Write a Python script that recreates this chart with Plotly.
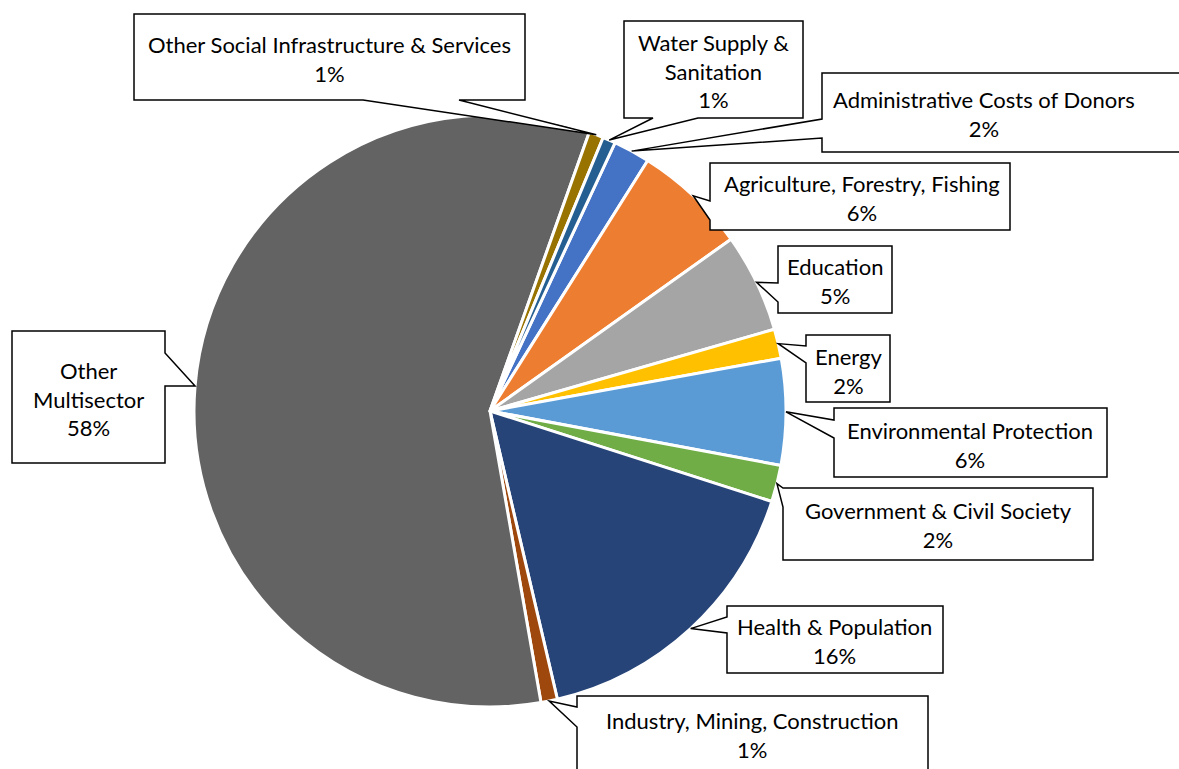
import math
import plotly.graph_objects as go

# ---------------- data ----------------
labels = [
    "Administrative Costs of Donors",
    "Agriculture, Forestry, Fishing",
    "Education",
    "Energy",
    "Environmental Protection",
    "Government & Civil Society",
    "Health & Population",
    "Industry, Mining, Construction",
    "Other Multisector",
    "Other Social Infrastructure & Services",
    "Water Supply & Sanitation",
]
values = [2.0, 6.2, 5.4, 1.6, 5.8, 2.0, 16.4, 0.9, 58.2, 0.8, 0.7]
colors = [
    "#4472C4", "#ED7D31", "#A5A5A5", "#FFC000", "#5B9BD5", "#70AD47",
    "#264478", "#9E480E", "#636363", "#997300", "#255E91",
]
# label text as displayed in the callouts (line breaks)
label_lines = [
    ["Administrative Costs of Donors"],
    ["Agriculture, Forestry, Fishing"],
    ["Education"],
    ["Energy"],
    ["Environmental Protection"],
    ["Government & Civil Society"],
    ["Health & Population"],
    ["Industry, Mining, Construction"],
    ["Other", "Multisector"],
    ["Other Social Infrastructure & Services"],
    ["Water Supply &", "Sanitation"],
]

# ---------------- layout constants ----------------
W, H = 1179, 769
CX, CY, R = 490, 411, 296          # pie centre / radius in pixels
ROTATION = 25                      # first slice start angle (deg, clockwise from 12 o'clock)

# callout boxes: (x0, y0, x1, y1), wedge side, wedge base (a, b), text centre (x, y)
callouts = [
    ((822, 73, 1190, 152), "left", (119, 138), (984, 114)),
    ((710, 163, 1010, 230), "left", (201, 220), (862, 198)),
    ((778, 246, 892, 313), "left", (283, 302), (835, 281)),
    ((806, 335, 890, 402), "left", (346, 363), (848, 371)),
    ((834, 408, 1107, 477), "left", (420, 438), (970, 445)),
    ((783, 488, 1093, 560), "left", (488, 507), (938, 525)),
    ((727, 606, 943, 673), "left", (617, 633), (835, 641)),
    ((577, 696, 928, 800), "left", (707, 727), (752, 735)),
    ((12, 331, 165, 463), "right", (353, 386), (88, 399)),
    ((134, 14, 525, 100), "bottom", (363, 459), (329, 59)),
    ((624, 21, 803, 118), "bottom", (653, 698), (713, 71)),
]

FONT = "Lato, Carlito, 'Liberation Sans', sans-serif"
FONT_SIZE = 22


def X(px):
    return px / W


def Y(py):
    return 1 - py / H


def callout_path(box, side, ab, tip):
    x0, y0, x1, y1 = box
    a, b = ab
    pts = [(x0, y0)]
    if side == "top":
        pts += [(a, y0), tip, (b, y0)]
    pts.append((x1, y0))
    if side == "right":
        pts += [(x1, a), tip, (x1, b)]
    pts.append((x1, y1))
    if side == "bottom":
        pts += [(b, y1), tip, (a, y1)]
    pts.append((x0, y1))
    if side == "left":
        pts += [(x0, b), tip, (x0, a)]
    return "M " + " L ".join(f"{X(x):.5f},{Y(y):.5f}" for x, y in pts) + " Z"


fig = go.Figure(
    go.Pie(
        labels=labels,
        values=values,
        sort=False,
        direction="clockwise",
        rotation=ROTATION,
        marker=dict(colors=colors, line=dict(color="white", width=3)),
        textinfo="none",
        hoverinfo="label+percent",
        domain=dict(x=[X(CX - R), X(CX + R)], y=[Y(CY + R), Y(CY - R)]),
        showlegend=False,
    )
)

total = sum(values)
cum = 0.0
shapes = []
annotations = []
for i, v in enumerate(values):
    mid = ROTATION + (cum + v / 2) / total * 360.0
    cum += v
    ang = math.radians(mid)
    tip = (CX + R * math.sin(ang), CY - R * math.cos(ang))
    box, side, ab, tc = callouts[i]
    shapes.append(
        dict(
            type="path",
            xref="paper",
            yref="paper",
            path=callout_path(box, side, ab, tip),
            fillcolor="white",
            line=dict(color="black", width=1.5),
            layer="above",
        )
    )
    pct = f"{round(v / total * 100):d}%"
    text = "<br>".join(label_lines[i] + [pct])
    annotations.append(
        dict(
            x=X(tc[0]),
            y=Y(tc[1]),
            xref="paper",
            yref="paper",
            text=text,
            showarrow=False,
            xanchor="center",
            yanchor="middle",
            align="center",
            font=dict(family=FONT, size=FONT_SIZE, color="black"),
        )
    )

fig.update_layout(
    width=W,
    height=H,
    margin=dict(l=0, r=0, t=0, b=0),
    paper_bgcolor="white",
    plot_bgcolor="white",
    shapes=shapes,
    annotations=annotations,
)

fig.write_html("out.html")
